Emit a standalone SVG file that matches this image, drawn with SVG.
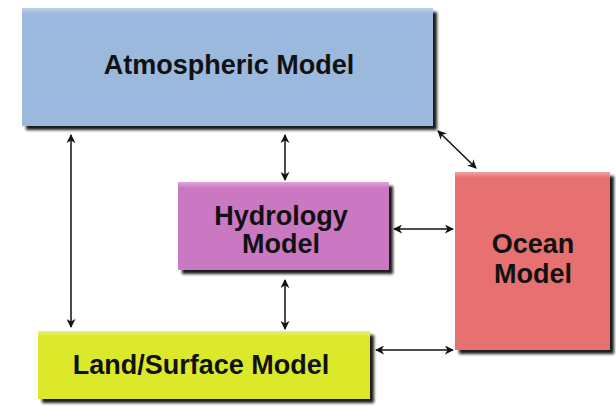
<svg xmlns="http://www.w3.org/2000/svg" width="616" height="406" viewBox="0 0 616 406">
<defs>
<filter id="sh" x="-10%" y="-10%" width="125%" height="130%">
<feGaussianBlur in="SourceAlpha" stdDeviation="1.8"/>
<feOffset dx="4" dy="4" result="o"/>
<feComponentTransfer><feFuncA type="linear" slope="0.9"/></feComponentTransfer>
<feMerge><feMergeNode/><feMergeNode in="SourceGraphic"/></feMerge>
</filter>
<linearGradient id="hl" x1="0" y1="0" x2="0" y2="1">
<stop offset="0" stop-color="#fff" stop-opacity="0.35"/>
<stop offset="1" stop-color="#fff" stop-opacity="0"/>
</linearGradient>
<marker id="ah" viewBox="0 0 10 10" refX="9" refY="5" markerWidth="9" markerHeight="9" markerUnits="userSpaceOnUse" orient="auto-start-reverse">
<path d="M0,0 L10,5 L0,10 L3,5 Z" fill="#111"/>
</marker>
</defs>
<style>
.lbl{font-family:"Liberation Sans",Arial,sans-serif;font-weight:bold;font-size:27px;fill:#111;text-anchor:middle}
.c{stroke:#111;stroke-width:1.5;fill:none;marker-start:url(#ah);marker-end:url(#ah)}
.hl{fill:url(#hl)}
</style>
<rect width="616" height="406" fill="#fff"/>
<g id="atmospheric">
<rect x="22" y="8" width="411" height="118" fill="#9bb9dc" filter="url(#sh)"/>
<rect class="hl" x="22" y="8" width="411" height="6"/>
<text class="lbl" x="229" y="74">Atmospheric Model</text>
</g>
<g id="hydrology">
<rect x="178" y="182" width="211" height="88" fill="#cb78c3" filter="url(#sh)"/>
<rect class="hl" x="178" y="182" width="211" height="6"/>
<text class="lbl" x="281" y="225">Hydrology</text>
<text class="lbl" x="281" y="253">Model</text>
</g>
<g id="ocean">
<rect x="455" y="172" width="155" height="178" fill="#e76f6f" filter="url(#sh)"/>
<rect class="hl" x="455" y="172" width="155" height="6"/>
<text class="lbl" x="533" y="253">Ocean</text>
<text class="lbl" x="533" y="283">Model</text>
</g>
<g id="land">
<rect x="38" y="331" width="332" height="68" fill="#dbe92b" filter="url(#sh)"/>
<rect class="hl" x="38" y="331" width="332" height="6"/>
<text class="lbl" x="201" y="374">Land/Surface Model</text>
</g>
<g id="connectors">
<line class="c" x1="71" y1="135" x2="71" y2="327"/>
<line class="c" x1="285" y1="135" x2="285" y2="180"/>
<line class="c" x1="285" y1="280" x2="285" y2="329"/>
<line class="c" x1="394" y1="229" x2="453" y2="229"/>
<line class="c" x1="376" y1="350" x2="453" y2="350"/>
<line class="c" x1="438" y1="131" x2="476" y2="168"/>
</g>
</svg>
